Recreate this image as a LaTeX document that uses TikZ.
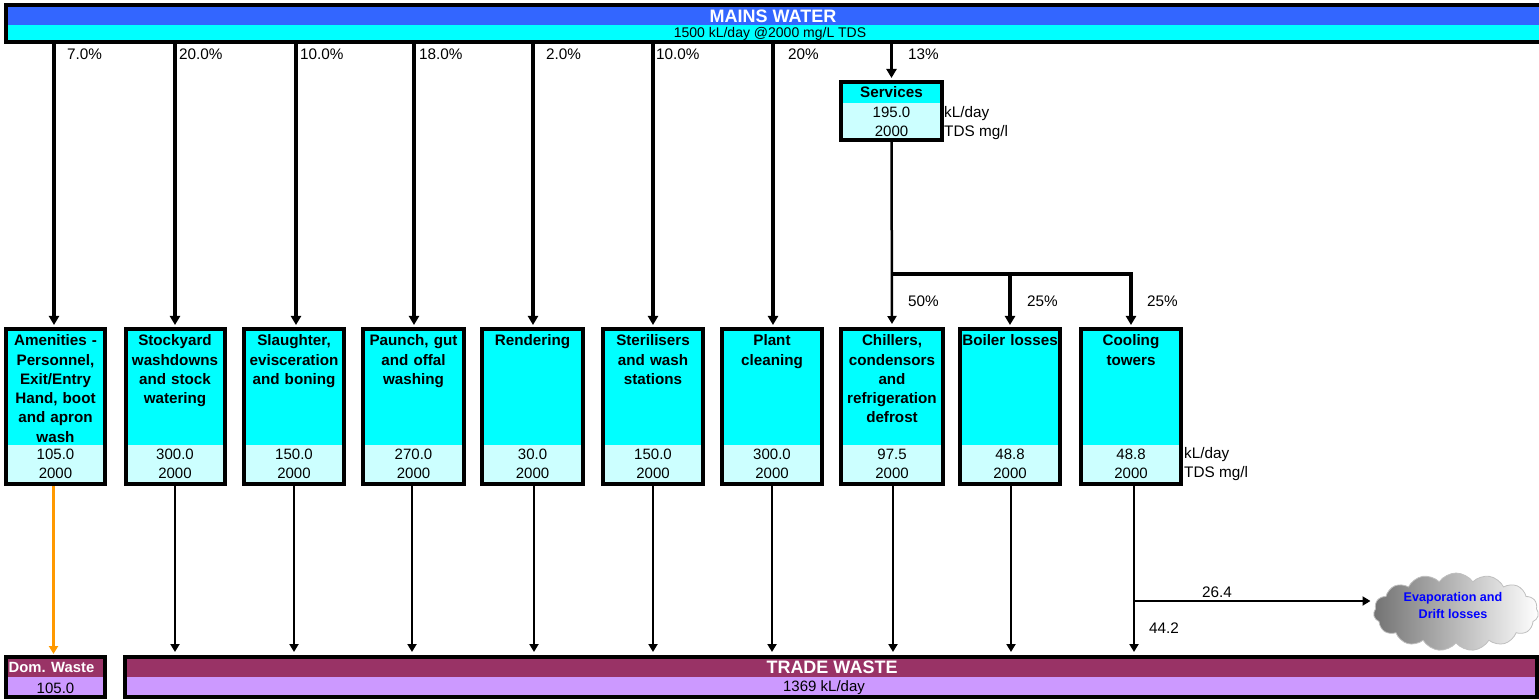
\documentclass[tikz,border=0pt]{standalone}
\usepackage{fontspec}
\setmainfont{Liberation Sans}
\usetikzlibrary{arrows.meta,shapes.symbols,calc}
\definecolor{hdrblue}{HTML}{3366FF}
\definecolor{cyanbox}{HTML}{00FFFF}
\definecolor{palecyan}{HTML}{CCFFFF}
\definecolor{maroonbox}{HTML}{993366}
\definecolor{lilacbox}{HTML}{CC99FF}
\definecolor{orangeline}{HTML}{FF9900}
\tikzset{
  frame/.style={draw=black,line width=4pt,rectangle,inner sep=0pt},
  band/.style={rectangle,inner sep=0pt},
  val/.style={inner sep=0pt,font=\fontsize{15}{19.3}\selectfont,align=center},
  ttl/.style={inner sep=0pt,font=\fontsize{15.2}{19.3}\selectfont\bfseries,align=center,text width=104pt,anchor=north},
  lbl/.style={inner sep=0pt,anchor=west,font=\fontsize{15.3}{18}\selectfont},
  heavy/.style={draw=black,line width=3.6pt,-{Triangle[length=9pt,width=10pt]},shorten >=2pt},
  light/.style={draw=black,line width=2.5pt,-{Triangle[length=8pt,width=9pt]},shorten >=3pt},
}
% name, x centre, width, top, split, bottom, title, value 1, value 2
\newcommand{\procbox}[9]{%
  \pgfmathsetmacro{\hh}{#6-#4}%
  \pgfmathsetmacro{\my}{(#4+#6)/2}%
  \pgfmathsetmacro{\lh}{#6-#5}%
  \pgfmathsetmacro{\ly}{(#5+#6)/2}%
  \node[frame,fill=cyanbox,minimum width=#3pt,minimum height=\hh pt] (#1) at (#2,\my) {};
  \node[band,fill=palecyan,minimum width=#3pt-2pt,minimum height=\lh pt-2pt] (#1-low) at (#2,\ly) {};
  \node[frame,minimum width=#3pt,minimum height=\hh pt] (#1-rim) at (#2,\my) {};
  \node[ttl] (#1-title) at (#2,#4+3) {\strut #7};
  \node[val] (#1-v1) at (#2,#5+10) {#8};
  \node[val] (#1-v2) at (#2,#5+29) {#9};
}
\begin{document}
\begin{tikzpicture}[x=1pt,y=-1pt]
\useasboundingbox (0,0) rectangle (1539,700);
% mains
\node[frame,fill=cyanbox,minimum width=1535pt,minimum height=37pt] (mains) at (773.5,23.5) {};
\node[band,fill=hdrblue,minimum width=1533pt,minimum height=19pt] (mainsbar) at (773.5,15.5) {};
\node[frame,minimum width=1535pt,minimum height=37pt] (mainsrim) at (773.5,23.5) {};
\node[inner sep=0pt,text=white,font=\fontsize{18}{20}\selectfont\bfseries] (mainst) at (773,16) {MAINS WATER};
\node[inner sep=0pt,font=\fontsize{14}{16}\selectfont] (mainsv) at (770,33.5) {1500 kL/day @2000 mg/L TDS};
% services
\procbox{svc}{891.5}{101}{82}{102}{140}{}{195.0}{2000}
\node[inner sep=0pt,font=\fontsize{15.2}{19.3}\selectfont\bfseries] (svct) at (891.5,92) {Services};
% process boxes
\procbox{a}{55.5}{99}{329}{444}{484}{Amenities -\\Personnel,\\Exit/Entry\\Hand, boot\\and apron\\wash}{105.0}{2000}
\procbox{b}{175}{99}{329}{444}{484}{Stockyard\\washdowns\\and stock\\watering}{300.0}{2000}
\procbox{c}{294}{100}{329}{444}{484}{Slaughter,\\evisceration\\and boning}{150.0}{2000}
\procbox{d}{413.5}{101}{329}{444}{484}{Paunch, gut\\and offal\\washing}{270.0}{2000}
\procbox{e}{532.5}{101}{329}{444}{484}{Rendering}{30.0}{2000}
\procbox{f}{653}{100}{329}{444}{484}{Sterilisers\\and wash\\stations}{150.0}{2000}
\procbox{g}{772}{100}{329}{444}{484}{Plant\\cleaning}{300.0}{2000}
\procbox{h}{892}{102}{329}{444}{484}{Chillers,\\condensors\\and\\refrigeration\\defrost}{97.5}{2000}
\procbox{i}{1010}{100}{329}{444}{484}{Boiler losses}{48.8}{2000}
\procbox{j}{1131}{100}{329}{444}{484}{Cooling\\towers}{48.8}{2000}
% waste boxes
\node[frame,fill=lilacbox,minimum width=99pt,minimum height=40pt] (dom) at (55.5,677) {};
\node[band,fill=maroonbox,minimum width=97pt,minimum height=20pt] (dombar) at (55.5,667) {};
\node[frame,minimum width=99pt,minimum height=40pt] (domrim) at (55.5,677) {};
\node[inner sep=0pt,text=white,font=\fontsize{14.8}{16}\selectfont\bfseries] (domt) at (51.5,667) {Dom. Waste};
\node[val] (domv) at (55.5,688) {105.0};
\node[frame,fill=lilacbox,minimum width=1412pt,minimum height=40pt] (trade) at (831,677) {};
\node[band,fill=maroonbox,minimum width=1410pt,minimum height=20pt] (tradebar) at (831,667) {};
\node[frame,minimum width=1412pt,minimum height=40pt] (traderim) at (831,677) {};
\node[inner sep=0pt,text=white,font=\fontsize{18}{20}\selectfont\bfseries] (tradet) at (832,667) {TRADE WASTE};
\node[val] (tradev) at (824,688) {1369 kL/day};
% cloud
\node[cloud,cloud puffs=15,cloud puff arc=110,aspect=2.1,draw=black!25,line width=.8pt,left color=black!55,right color=white,minimum width=165pt,minimum height=78pt,inner sep=0pt,align=center] (cl) at (1456,612) {};
\node[inner sep=0pt,align=center,text=blue,font=\fontsize{12.6}{17}\selectfont\bfseries] (clt) at (1453,605) {Evaporation and\\Drift losses};
% mains to boxes
\foreach \n/\s in {a/-1.5,b/0,c/2,d/0.5,e/0.5,f/0,g/1}
  \draw[heavy] ([xshift=\s pt]\n.north |- mains.south) -- ([xshift=\s pt]\n.north);
\draw[heavy] (svc.north |- mains.south) -- (svc.north);
% services branch
\coordinate (split) at (svc.south |- 0,274);
\draw[light] (svc.south) -- (h.north);
\draw[heavy] (split) -- (split -| j.north) -- (j.north);
\draw[heavy] (split -| i.north) -- (i.north);
% boxes to waste
\draw[draw=orangeline,line width=2.6pt,-{Triangle[length=8pt,width=9pt]},shorten >=1pt] ([xshift=-2pt]a.south) -- ([xshift=-2pt]dom.north);
\foreach \n/\s in {b/0,c/0,d/-1.5,e/1.5,f/0,g/0,h/1,i/1,j/3}
  \draw[light] ([xshift=\s pt]\n.south) -- ([xshift=\s pt]\n.south |- trade.north);
% evaporation
\coordinate (evap) at ($(j.south)+(3,0)$);
\draw[light] (evap |- 0,601) -- (cl.west |- 0,601);
% labels
\node[lbl] (p1) at (67,54) {7.0\%};
\node[lbl] (p2) at (179,54) {20.0\%};
\node[lbl] (p3) at (300,54) {10.0\%};
\node[lbl] (p4) at (419,54) {18.0\%};
\node[lbl] (p5) at (546,54) {2.0\%};
\node[lbl] (p6) at (656,54) {10.0\%};
\node[lbl] (p7) at (788,54) {20\%};
\node[lbl] (p8) at (908,54) {13\%};
\node[lbl] (p9) at (908,301) {50\%};
\node[lbl] (p10) at (1027,301) {25\%};
\node[lbl] (p11) at (1147,301) {25\%};
\node[lbl] (u1) at (944,113.5) {kL/day};
\node[lbl] (u2) at (944,132.5) {TDS mg/l};
\node[lbl] (u3) at (1184,454.5) {kL/day};
\node[lbl] (u4) at (1184,473.5) {TDS mg/l};
\node[lbl] (q1) at (1202,592) {26.4};
\node[lbl] (q2) at (1149,628) {44.2};
\end{tikzpicture}
\end{document}
